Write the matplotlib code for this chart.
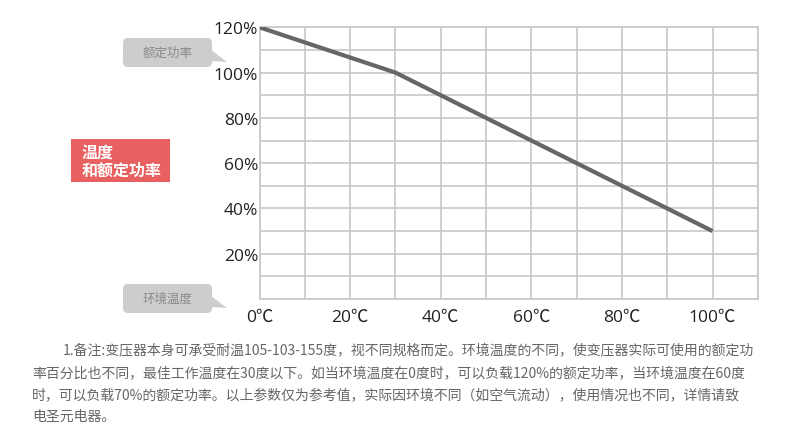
import matplotlib
matplotlib.use("Agg")
import matplotlib.pyplot as plt
from matplotlib.patches import FancyBboxPatch, Polygon
from matplotlib.ticker import MultipleLocator, FuncFormatter

plt.rcParams['font.family'] = ['Open Sans', 'Noto Sans CJK SC', 'DejaVu Sans']

# data
temps = [0, 30, 60, 100]
power = [120, 100, 70, 30]
x_labels = ['0℃', '20℃', '40℃', '60℃', '80℃', '100℃']
y_labels = ['20%', '40%', '60%', '80%', '100%', '120%']
notes = [
    "1.备注:变压器本身可承受耐温105-103-155度，视不同规格而定。环境温度的不同，使变压器实际可使用的额定功",
    "率百分比也不同，最佳工作温度在30度以下。如当环境温度在0度时，可以负载120%的额定功率，当环境温度在60度",
    "时，可以负载70%的额定功率。以上参数仅为参考值，实际因环境不同（如空气流动），使用情况也不同，详情请致",
    "电圣元电器。",
]

W, H = 790, 431
fig = plt.figure(figsize=(W / 100, H / 100), dpi=100)

# overlay in pixel coords for the decorations
bg = fig.add_axes([0, 0, 1, 1])
bg.set_xlim(0, W)
bg.set_ylim(H, 0)
bg.axis('off')

left, right, top, bottom = 259.5, 757.8, 28.3, 300
ax = fig.add_axes([left / W, (H - bottom) / H, (right - left) / W, (bottom - top) / H])
ax.plot(temps, power, color='#666666', lw=3, solid_capstyle='butt', zorder=3)
ax.set_xlim(0, 110)
ax.set_ylim(0, 120)
ax.xaxis.set_major_locator(MultipleLocator(10))
ax.yaxis.set_major_locator(MultipleLocator(10))

def xfmt(v, pos):
    i = int(round(v))
    return x_labels[i // 20] if i % 20 == 0 and i <= 100 else ''

def yfmt(v, pos):
    i = int(round(v))
    return y_labels[i // 20 - 1] if i % 20 == 0 and i > 0 else ''

ax.xaxis.set_major_formatter(FuncFormatter(xfmt))
ax.yaxis.set_major_formatter(FuncFormatter(yfmt))
ax.tick_params(length=0, labelsize=12.5, labelcolor='#222222')
ax.tick_params(axis='x', pad=7)
ax.tick_params(axis='y', pad=1)
ax.grid(True, color='#c8c8c8', lw=1.2)
for s in ax.spines.values():
    s.set_color('#c8c8c8')
    s.set_linewidth(1.2)

# grey callouts
for label, y0 in [('额定功率', 39), ('环境温度', 285)]:
    bg.add_patch(FancyBboxPatch((123, y0), 89, 29, boxstyle='round,pad=0,rounding_size=5',
                                fc='#cdcdcd', ec='none'))
    bg.add_patch(Polygon([(211, y0 + 12), (227, y0 + 24), (211, y0 + 23)], closed=True,
                         fc='#cdcdcd', ec='none'))
    bg.text(167.5, y0 + 14.5, label, ha='center', va='center', fontsize=9,
            color='#8a8a8a', family=['Noto Sans CJK SC', 'DejaVu Sans'])

# red title box
bg.add_patch(plt.Rectangle((71, 140), 99, 43, fc='#e8605f', ec='none'))
bg.text(82, 161.5, '温度\n和额定功率', ha='left', va='center', fontsize=11.5,
        color='white', fontweight='bold', linespacing=1.15,
        family=['Noto Sans CJK SC', 'DejaVu Sans'])

# note paragraph
starts = [63, 32, 32, 32]
ys = [351, 374, 396, 417]
for txt, x0, y0 in zip(notes, starts, ys):
    bg.text(x0, y0, txt, ha='left', va='center', fontsize=10, color='#666666',
            family=['Noto Sans CJK SC', 'DejaVu Sans'])

fig.savefig('out.png', dpi=100)
